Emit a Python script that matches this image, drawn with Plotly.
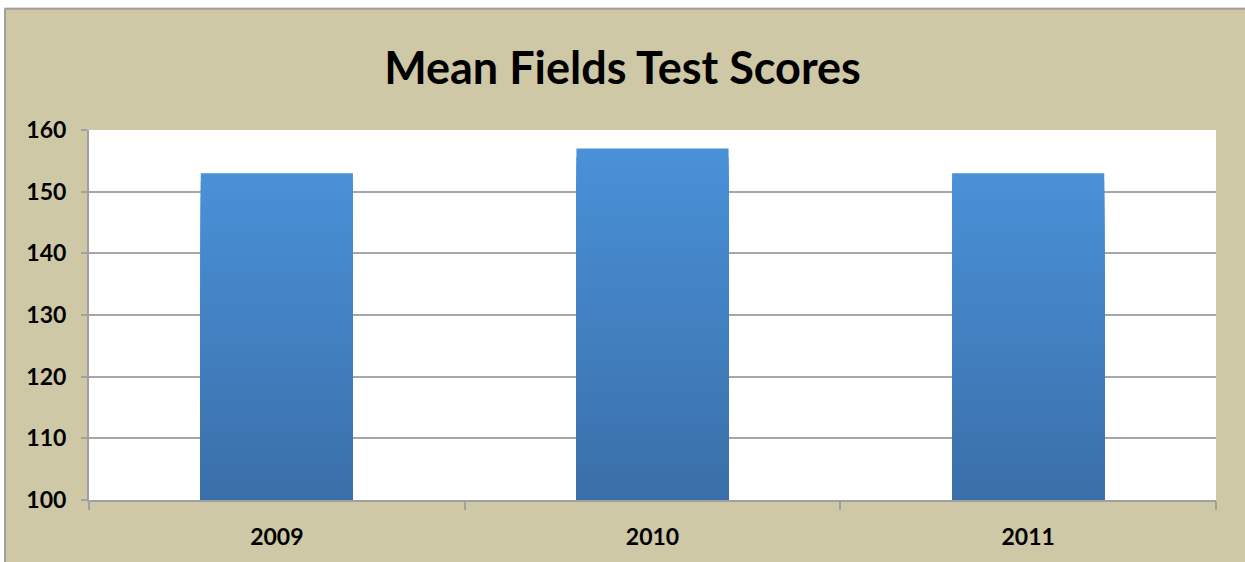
import plotly.graph_objects as go
import numpy as np

years = ["2009", "2010", "2011"]
scores = [153, 157, 153]
y_ticks = [100, 110, 120, 130, 140, 150, 160]
title_text = "Mean Fields Test Scores"

W, H = 1245, 562
L, R, T, B = 89, 29, 130, 60
base_val = 100

top_rgb = np.array([74, 145, 216])
bot_rgb = np.array([58, 111, 168])
N = 40

fig = go.Figure()
vals = np.array(scores, dtype=float)
for k in range(N):
    frac = (N - k) / N
    c = bot_rgb + (top_rgb - bot_rgb) * frac
    fig.add_trace(go.Bar(
        x=years, y=(vals - base_val) * frac, base=base_val,
        marker=dict(color="rgb(%d,%d,%d)" % tuple(c.astype(int)), line=dict(width=0)),
        width=0.405, showlegend=False, hoverinfo="skip",
    ))

font_family = "Lato, Carlito, 'Liberation Sans', sans-serif"

fig.update_layout(
    width=W, height=H,
    margin=dict(l=L, r=R, t=T, b=B),
    paper_bgcolor="#CFC8A6",
    plot_bgcolor="white",
    barmode="overlay",
    title=dict(text=title_text, x=0.5, xref="container", xanchor="center",
               y=(H - 68) / H, yref="container", yanchor="middle",
               font=dict(family=font_family, size=45, color="black", weight=700)),
    font=dict(family=font_family, color="black"),
)
fig.update_xaxes(
    type="category", showgrid=False, showline=True, linecolor="#A0A0A0", linewidth=2,
    ticks="outside", tickson="boundaries", ticklen=8, tickcolor="#A0A0A0", tickwidth=2,
    tickfont=dict(family=font_family, size=23, color="black", weight=700),
    ticklabelstandoff=15,
)
fig.update_yaxes(
    range=[100, 160], tickvals=y_ticks, showgrid=True, gridcolor="#A6A6A6", gridwidth=2,
    showline=True, linecolor="#A0A0A0", linewidth=2,
    ticks="outside", ticklen=6, tickcolor="#A0A0A0", tickwidth=2,
    tickfont=dict(family=font_family, size=23, color="black", weight=700),
    ticklabelstandoff=10, zeroline=False,
)

# outer chart-area border (top and left), white outside it
pw, ph = W - L - R, H - T - B
def px2x(p): return (p - L) / pw
def py2y(p): return (H - B - p) / ph
fig.add_shape(type="rect", xref="paper", yref="paper", x0=px2x(-5), x1=px2x(W + 5),
              y0=py2y(7), y1=py2y(-5), fillcolor="white", line=dict(width=0), layer="above")
fig.add_shape(type="rect", xref="paper", yref="paper", x0=px2x(-5), x1=px2x(4),
              y0=py2y(H + 5), y1=py2y(-5), fillcolor="white", line=dict(width=0), layer="above")
fig.add_shape(type="line", xref="paper", yref="paper", x0=px2x(5), x1=px2x(W + 5),
              y0=py2y(8), y1=py2y(8), line=dict(color="#A0A0A0", width=2), layer="above")
fig.add_shape(type="line", xref="paper", yref="paper", x0=px2x(5), x1=px2x(5),
              y0=py2y(8), y1=py2y(H + 5), line=dict(color="#A0A0A0", width=2), layer="above")

fig.write_html(
    "out.html",
    config={"displayModeBar": False},
    post_script="document.body.style.margin='0px';document.body.style.overflow='hidden';",
)
